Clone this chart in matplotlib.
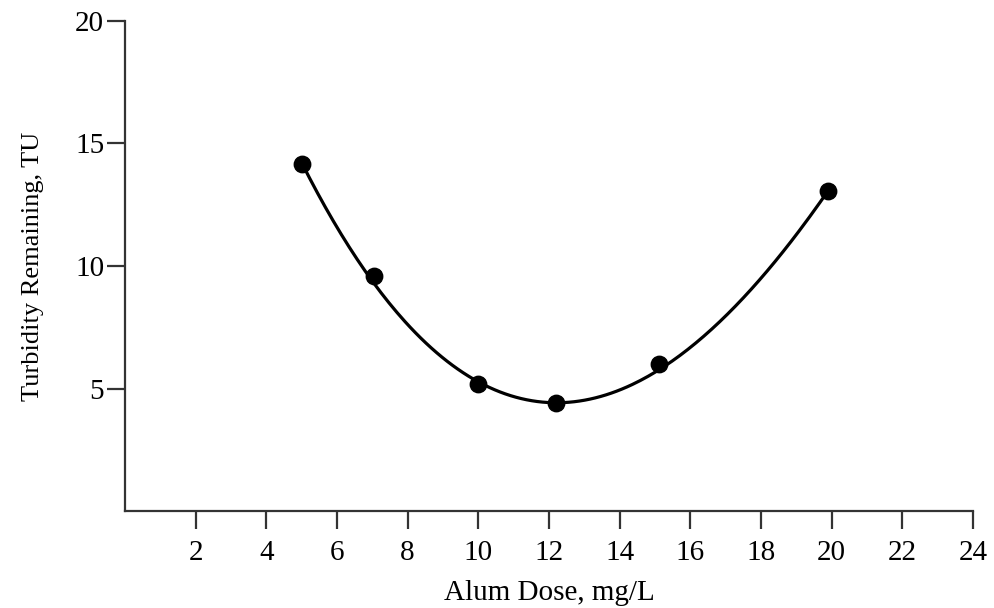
import matplotlib.pyplot as plt
import numpy as np

# alum dose (mg/L) and turbidity remaining (TU)
dose = [5.0, 7.05, 10.0, 12.2, 15.1, 19.9]
turbidity = [14.15, 9.6, 5.2, 4.4, 6.0, 13.05]

x_ticks = [2, 4, 6, 8, 10, 12, 14, 16, 18, 20, 22, 24]
y_ticks = [5, 10, 15, 20]

plt.rcParams['font.family'] = ['Liberation Serif', 'DejaVu Serif']

fig = plt.figure(figsize=(9.94, 6.08), dpi=100)
ax = fig.add_axes([0.1258, 0.1595, 0.853, 0.806])

# smooth fitted curve (cubic, pulled toward the minimum point)
coef = np.polyfit(dose, turbidity, 3, w=[1.5, 1, 1, 4, 1, 1.5])
xs = np.linspace(min(dose), max(dose), 200)
ax.plot(xs, np.polyval(coef, xs), color='black', lw=2.3, zorder=2)
ax.scatter(dose, turbidity, s=140, color='black', zorder=3)

ax.set_xlim(0, 24)
ax.set_ylim(0, 20)
ax.set_xticks(x_ticks)
ax.set_yticks(y_ticks)
ax.spines['top'].set_visible(False)
ax.spines['right'].set_visible(False)
for s in ['left', 'bottom']:
    ax.spines[s].set_linewidth(1.6)
    ax.spines[s].set_color('#333333')
ax.tick_params(direction='out', length=13, width=1.6, color='#333333',
               labelsize=21)
ax.tick_params(axis='x', pad=8)
ax.tick_params(axis='y', pad=2)

ax.set_xlabel('Alum Dose, mg/L', fontsize=21, labelpad=10)
ax.set_ylabel('Turbidity Remaining, TU', fontsize=19, labelpad=22)

fig.savefig('out.png', dpi=100)
